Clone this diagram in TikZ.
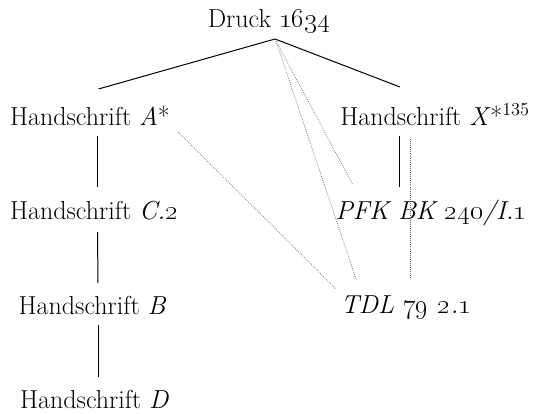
\documentclass[tikz,border=0pt]{standalone}
\begin{document}
\begin{tikzpicture}[x=0.75pt,y=-0.75pt,
  lbl/.style={inner sep=0pt, anchor=base, font=\fontsize{19.5}{23}\selectfont},
  tree/.style={line width=0.75pt, black},
  link/.style={line width=0.55pt, densely dotted, black!60}]
\useasboundingbox (0,0) rectangle (533,414);
% nodes
\node[lbl] (dr)  at (269,27)    {Druck \oldstylenums{1634}};
\node[lbl] (ha)  at (90,125.5)  {Handschrift \textit{A}*};
\node[lbl] (hx)  at (435,125.5) {Handschrift \textit{X}*\textsuperscript{135}};
\node[lbl] (hc)  at (94,219.5)  {Handschrift \textit{C.\oldstylenums{2}}};
\node[lbl] (pfk) at (431,219.5) {\textit{PFK BK \oldstylenums{240}/I.\oldstylenums{1}}};
\node[lbl] (hb)  at (92.5,314)  {Handschrift \textit{B}};
\node[lbl] (tdl) at (406,313.5) {\textit{TDL \oldstylenums{79} \oldstylenums{2}.\oldstylenums{1}}};
\node[lbl] (hd)  at (94.5,408.5){Handschrift \textit{D}};
% solid tree edges
\draw[tree] ([shift={(6,12)}]dr.base) -- ([shift={(8.5,-36.5)}]ha.base);
\draw[tree] ([shift={(6,12)}]dr.base) -- ([shift={(-35,-38.5)}]hx.base);
\draw[tree] ([shift={(7.5,10.5)}]ha.base) -- ([shift={(3.5,-32.5)}]hc.base);
\draw[tree] ([shift={(3.5,12.5)}]hc.base) -- ([shift={(5.5,-31)}]hb.base);
\draw[tree] ([shift={(6,11)}]hb.base) -- ([shift={(4,-31.5)}]hd.base);
\draw[tree] ([shift={(-35.5,10.5)}]hx.base) -- ([shift={(-31.5,-32.5)}]pfk.base);
% dotted contamination links
\draw[link] ([shift={(7,14)}]dr.base) -- ([shift={(-78,-34.5)}]pfk.base);
\draw[link] ([shift={(7,14)}]dr.base) -- ([shift={(-50,-34.5)}]tdl.base);
\draw[link] ([shift={(88,6.5)}]ha.base) -- ([shift={(-70,-24.5)}]tdl.base);
\draw[link] ([shift={(-25,13.5)}]hx.base) -- ([shift={(4,-35.5)}]tdl.base);
\end{tikzpicture}
\end{document}
